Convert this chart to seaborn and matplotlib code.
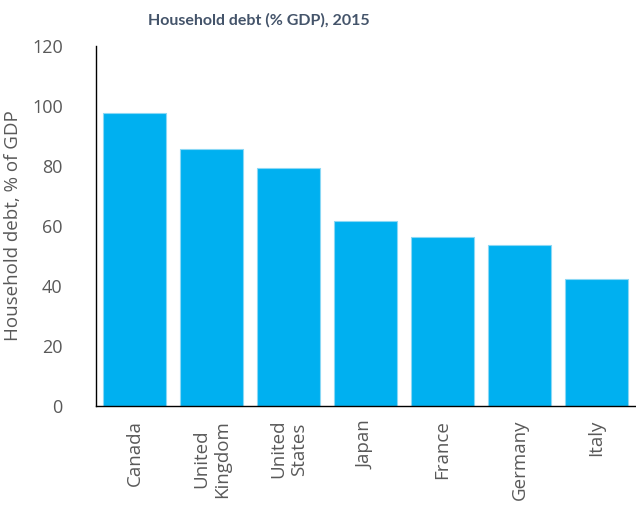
import matplotlib
matplotlib.use("Agg")
import matplotlib.pyplot as plt
import seaborn as sns
import pandas as pd

countries = ["Canada", "United\nKingdom", "United\nStates", "Japan", "France", "Germany", "Italy"]
debt_pct_gdp = [97.6, 85.8, 79.2, 61.7, 56.4, 53.7, 42.2]
y_ticks = [0, 20, 40, 60, 80, 100, 120]

sns.set_theme(style="white")
plt.rcParams["font.family"] = ["Open Sans", "DejaVu Sans"]

df = pd.DataFrame({"country": countries, "debt": debt_pct_gdp})

fig = plt.figure(figsize=(6.36, 5.09), dpi=100)
ax = fig.add_axes([96 / 636, 1 - 406 / 509, 539 / 636, 360 / 509])

sns.barplot(data=df, x="country", y="debt", color="#00B0F0", saturation=1,
            width=0.83, edgecolor="#8AD8F5", linewidth=0.8, ax=ax)

ax.set_ylim(0, 120)
ax.set_xlim(-0.5, len(countries) - 0.5)
ax.set_yticks(y_ticks)
ax.set_yticklabels([str(t) for t in y_ticks])
ax.tick_params(axis="y", length=0, pad=24, labelsize=13, labelcolor="#595959")
ax.tick_params(axis="x", length=0, pad=10, labelsize=13.5, labelcolor="#595959")
for lab in ax.get_xticklabels():
    lab.set_rotation(90)
    lab.set_multialignment("center")
    lab.set_va("top")
    lab.set_ha("center")

ax.set_xlabel("")
ax.set_ylabel("Household debt, % of GDP", fontsize=13.5, color="#595959")
ax.yaxis.set_label_coords((22 - 96) / 539, 0.5)

for side in ["top", "right"]:
    ax.spines[side].set_visible(False)
for side in ["left", "bottom"]:
    ax.spines[side].set_color("black")
    ax.spines[side].set_linewidth(1.0)

fig.text(259 / 636, 1 - 20 / 509, "Household debt (% GDP), 2015", ha="center", va="center",
         fontsize=11.5, fontweight="bold", color="#44546A", family=["Lato", "DejaVu Sans"])

fig.savefig("out.png", dpi=100, facecolor="white")
